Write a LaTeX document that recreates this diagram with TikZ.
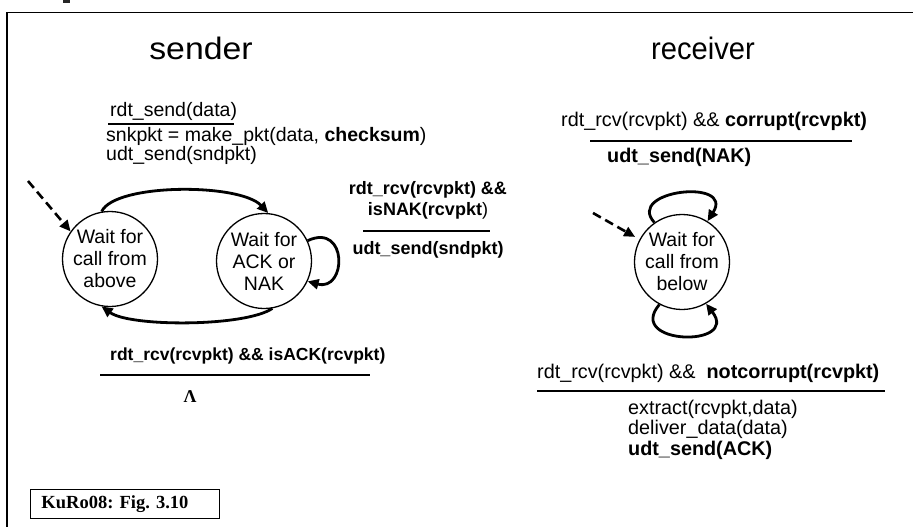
\documentclass[tikz,border=0pt]{standalone}
\usepackage{fontspec}
\setmainfont{Liberation Sans}
\newfontfamily\refserif{Liberation Serif}
\usetikzlibrary{arrows.meta}
\frenchspacing
\begin{document}
\begin{tikzpicture}[x=1pt,y=-1pt,
  every node/.style={inner sep=0pt},
  state/.style={circle,draw,line width=1.3pt,minimum size=95pt,align=center,font=\fontsize{19.5}{22}\selectfont},
  tr/.style={line width=2.8pt,-{Triangle[length=11pt,width=10pt]}},
  init/.style={line width=2.6pt,dash pattern=on 9pt off 5pt,-{Triangle[length=11pt,width=10pt]}},
  bar/.style={line width=2.8pt},
  lw/.style={anchor=base west},
  lc/.style={anchor=base},
  fa/.style={font=\fontsize{19.5}{22}\selectfont},
  fn/.style={font=\fontsize{18}{21}\selectfont},
  fk/.style={font=\fontsize{17.5}{21}\selectfont},
  fr/.style={font=\fontsize{19.8}{23}\selectfont},
  ttl/.style={font=\fontsize{31}{33}\selectfont}
]
\useasboundingbox (0,0) rectangle (913,527);
% cropped title fragment and frame
\fill[black!85] (63,0) rectangle (70,3.5);
\draw[line width=1.4pt] (913,12.8) -- (7,12.8) -- (7,527);

% titles
\node[ttl] (tsnd) at (201,48) {\scalebox{1.09}[1]{sender}};
\node[ttl] (trcv) at (703,48) {\scalebox{0.94}[1]{receiver}};

% sender states
\node[state] (s1) at (110,259) {Wait for\\call from\\above};
\node[state] (s2) at (264,261) {Wait for\\ACK or\\NAK};

% receiver state
\node[state] (r1) at (682,262) {Wait for\\call from\\below};

% initial arrows
\coordinate (i1) at (28,181);
\coordinate (i2) at (593,213);
\draw[init] (i1) -- (s1.145);
\draw[init,shorten >=5pt] (i2) -- (r1.152);

% sender transitions
\draw[tr] (s1.100) .. controls (115,183) and (240,183) .. (s2.85);
\draw[tr] (s2.-80) .. controls (245,327) and (130,327) .. (s1.-100);
\draw[tr] (s2.25) .. controls (348,222) and (347,292) .. (s2.-25);

% receiver transitions
\draw[tr] (r1.125) .. controls (625,190) and (735,178) .. (r1.58);
\draw[tr] (r1.-118) .. controls (625,345) and (740,348) .. (r1.-60);

% sender labels: rdt_send
\node[lw,fa] (l1) at (110,116) {rdt\_send(data)};
\draw[bar] (108,124) -- (234,124);
\node[lw,fa] (l2) at (106,141) {snkpkt = make\_pkt(data, \textbf{checksum})};
\node[lw,fa] (l3) at (106,160) {udt\_send(sndpkt)};

% isNAK label
\node[lc,fn] (n1) at (428,194) {\textbf{rdt\_rcv(rcvpkt) \&\&}};
\node[lc,fn] (n2) at (428,215) {\textbf{isNAK(rcvpkt})};
\draw[bar] (363,231) -- (490,231);
\node[lc,fn] (n3) at (428,254) {\textbf{udt\_send(sndpkt)}};

% isACK label
\node[lw,fk] (k1) at (110,360) {\textbf{rdt\_rcv(rcvpkt) \&\& isACK(rcvpkt)}};
\draw[bar] (100,375) -- (370,375);
\node[lc] (k2) at (190,402) {\fontsize{18}{20}\selectfont\refserif\bfseries Λ};

% receiver labels: corrupt
\node[lw,fr] (c1) at (561,126) {rdt\_rcv(rcvpkt) \&\& \textbf{corrupt(rcvpkt)}};
\draw[bar] (590,141) -- (852,141);
\node[lw,fr] (c2) at (607,162) {\textbf{udt\_send(NAK)}};

% receiver labels: notcorrupt
\node[lw,fr] (g1) at (537,378) {rdt\_rcv(rcvpkt) \&\& \ \textbf{notcorrupt(rcvpkt)}};
\draw[bar] (537,391) -- (885,391);
\node[lw,fr] (g2) at (628,414) {extract(rcvpkt,data)};
\node[lw,fr] (g3) at (628,434) {deliver\_data(data)};
\node[lw,fr] (g4) at (628,455) {\textbf{udt\_send(ACK)}};

% reference box
\node[draw,line width=1pt,anchor=north west,minimum width=189pt,minimum height=29pt,
      text width=167pt,inner xsep=11pt,align=left,
      font=\fontsize{18.5}{20}\selectfont\refserif\bfseries] (ref) at (30,489) {KuRo08: Fig. 3.10};
\end{tikzpicture}
\end{document}
